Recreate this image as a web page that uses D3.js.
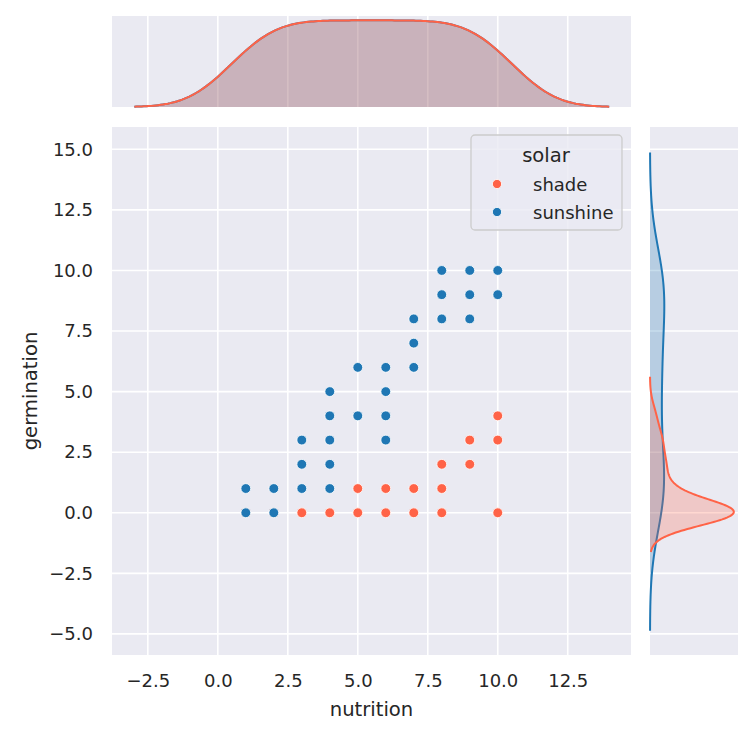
<!DOCTYPE html>
<html>
<head>
<meta charset="utf-8">
<script src="https://cdn.jsdelivr.net/npm/d3@7"></script>
<style>
  body { margin: 0; background: #fff; }
  text { font-family: "DejaVu Sans", sans-serif; fill: #262626; }
</style>
</head>
<body>
<div id="chart"></div>
<script>
// trials per spot: several trials can land on the same (nutrition, germination) dot
const shadeNutrition   = [1, 2, 3, 4, 5, 5, 6, 6, 7, 7, 8, 8, 8, 9, 9, 10, 10, 10];
const shadeGermination = [0, 0, 0, 0, 0, 1, 0, 1, 0, 1, 0, 1, 2, 2, 3, 0, 3, 4];
const shadeCount       = [5, 5, 5, 5, 3, 2, 4, 1, 3, 2, 2, 1, 2, 3, 2, 1, 2, 2];

const sunNutrition   = [1, 1, 2, 2, 3, 3, 3, 4, 4, 4, 4, 4, 5, 5, 6, 6, 6, 6, 7, 7, 7, 8, 8, 8, 9, 9, 9, 10, 10];
const sunGermination = [0, 1, 0, 1, 1, 2, 3, 1, 2, 3, 4, 5, 4, 6, 3, 4, 5, 6, 6, 7, 8, 8, 9, 10, 8, 9, 10, 9, 10];
const sunCount       = [3, 2, 2, 3, 2, 2, 1, 1, 1, 1, 1, 1, 2, 3, 1, 1, 1, 2, 1, 2, 2, 1, 2, 2, 1, 2, 2, 2, 3];

const groups = ["shade", "sunshine"];
const groupColors = ["#ff6347", "#1f77b4"];

const xTicks = [-2.5, 0, 2.5, 5, 7.5, 10, 12.5];
const yTicks = [-5, -2.5, 0, 2.5, 5, 7.5, 10, 12.5, 15];
const xDomain = [-3.78, 14.76];
const yDomain = [-5.87, 15.92];

const width = 752, height = 729;
const main = { left: 112, right: 631, top: 127, bottom: 655 };
const margTop = { top: 16, bottom: 107 };
const margRight = { left: 650, right: 738 };
const bg = "#eaeaf2";

// expand the spots into one row per trial
function expand(nut, germ, count, solar) {
  const rows = [];
  nut.forEach((n, i) => {
    for (let k = 0; k < count[i]; k++) rows.push({ nutrition: n, germination: germ[i], solar });
  });
  return rows;
}
const data = [
  ...expand(shadeNutrition, shadeGermination, shadeCount, "shade"),
  ...expand(sunNutrition, sunGermination, sunCount, "sunshine")
];
const spots = [
  shadeNutrition.map((n, i) => ({ nutrition: n, germination: shadeGermination[i], solar: "shade" })),
  sunNutrition.map((n, i) => ({ nutrition: n, germination: sunGermination[i], solar: "sunshine" }))
];

// gaussian kde, scott bandwidth, cut = 3, common norm
function kde(values, total) {
  const n = values.length;
  const bw = d3.deviation(values) * Math.pow(n, -0.2);
  const lo = d3.min(values) - 3 * bw, hi = d3.max(values) + 3 * bw;
  return d3.range(200).map(i => {
    const g = lo + (hi - lo) * i / 199;
    const dens = d3.sum(values, v => Math.exp(-0.5 * ((g - v) / bw) ** 2)) / (n * bw * Math.sqrt(2 * Math.PI));
    return [g, dens * n / total];
  });
}

const color = d3.scaleOrdinal(groups, groupColors);
const x = d3.scaleLinear(xDomain, [main.left, main.right]);
const y = d3.scaleLinear(yDomain, [main.bottom, main.top]);

const kdeX = groups.map(s => kde(data.filter(d => d.solar === s).map(d => d.nutrition), data.length));
const kdeY = groups.map(s => kde(data.filter(d => d.solar === s).map(d => d.germination), data.length));

const yTop = d3.scaleLinear([0, d3.max(kdeX.flat(), d => d[1]) * 1.05], [margTop.bottom, margTop.top]);
const xRight = d3.scaleLinear([0, d3.max(kdeY.flat(), d => d[1]) * 1.05], [margRight.left, margRight.right]);

const svg = d3.select("#chart").append("svg")
    .attr("width", width)
    .attr("height", height)
    .attr("viewBox", [0, 0, width, height]);

// axes backgrounds
svg.append("rect").attr("x", main.left).attr("y", main.top)
    .attr("width", main.right - main.left).attr("height", main.bottom - main.top).attr("fill", bg);
svg.append("rect").attr("x", main.left).attr("y", margTop.top)
    .attr("width", main.right - main.left).attr("height", margTop.bottom - margTop.top).attr("fill", bg);
svg.append("rect").attr("x", margRight.left).attr("y", main.top)
    .attr("width", margRight.right - margRight.left).attr("height", main.bottom - main.top).attr("fill", bg);

// grid lines
const grid = svg.append("g").attr("stroke", "#fff").attr("stroke-width", 1.6);
grid.selectAll(".gx").data(xTicks).join("line")
    .attr("x1", d => x(d)).attr("x2", d => x(d))
    .attr("y1", main.top).attr("y2", main.bottom);
grid.selectAll(".gxt").data(xTicks).join("line")
    .attr("x1", d => x(d)).attr("x2", d => x(d))
    .attr("y1", margTop.top).attr("y2", margTop.bottom);
grid.selectAll(".gy").data(yTicks).join("line")
    .attr("y1", d => y(d)).attr("y2", d => y(d))
    .attr("x1", main.left).attr("x2", main.right);
grid.selectAll(".gyr").data(yTicks).join("line")
    .attr("y1", d => y(d)).attr("y2", d => y(d))
    .attr("x1", margRight.left).attr("x2", margRight.right);

// axes
svg.append("g")
    .attr("transform", `translate(0,${main.bottom})`)
    .call(d3.axisBottom(x).tickValues(xTicks).tickFormat(d3.format(".1f")).tickSize(0).tickPadding(19))
    .call(g => g.select(".domain").remove())
    .call(g => g.selectAll("text").style("font-size", "18px").attr("fill", "#262626"));

svg.append("g")
    .attr("transform", `translate(${main.left},0)`)
    .call(d3.axisLeft(y).tickValues(yTicks).tickFormat(d3.format(".1f")).tickSize(0).tickPadding(19))
    .call(g => g.select(".domain").remove())
    .call(g => g.selectAll("text").style("font-size", "18px").attr("fill", "#262626"));

svg.append("text")
    .attr("x", (main.left + main.right) / 2)
    .attr("y", 716)
    .attr("text-anchor", "middle")
    .style("font-size", "19.6px")
    .text("nutrition");

svg.append("text")
    .attr("transform", `translate(37,${(main.top + main.bottom) / 2}) rotate(-90)`)
    .attr("text-anchor", "middle")
    .style("font-size", "19.6px")
    .text("germination");

// scatter, shade first then sunshine on top
svg.append("g")
  .selectAll("circle")
  .data(spots.flat())
  .join("circle")
    .attr("cx", d => x(d.nutrition))
    .attr("cy", d => y(d.germination))
    .attr("r", 4.9)
    .attr("fill", d => color(d.solar))
    .attr("stroke", "#fff")
    .attr("stroke-width", 0.8);

// marginal kdes, drawn in reverse hue order
const order = [1, 0];
const topArea = d3.area().x(d => x(d[0])).y0(yTop(0)).y1(d => yTop(d[1]));
const topLine = d3.line().x(d => x(d[0])).y(d => yTop(d[1]));
const rightArea = d3.area().y(d => y(d[0])).x0(xRight(0)).x1(d => xRight(d[1]));
const rightLine = d3.line().y(d => y(d[0])).x(d => xRight(d[1]));

const margG = svg.append("g");
order.forEach(i => {
  margG.append("path").attr("d", topArea(kdeX[i]))
      .attr("fill", groupColors[i]).attr("fill-opacity", 0.25);
  margG.append("path").attr("d", topLine(kdeX[i]))
      .attr("fill", "none").attr("stroke", groupColors[i]).attr("stroke-width", 2);
});
order.forEach(i => {
  margG.append("path").attr("d", rightArea(kdeY[i]))
      .attr("fill", groupColors[i]).attr("fill-opacity", 0.25);
  margG.append("path").attr("d", rightLine(kdeY[i]))
      .attr("fill", "none").attr("stroke", groupColors[i]).attr("stroke-width", 2);
});

// legend
const legend = svg.append("g").attr("transform", "translate(471,135)");
legend.append("rect")
    .attr("width", 151).attr("height", 95)
    .attr("rx", 4)
    .attr("fill", bg).attr("fill-opacity", 0.8)
    .attr("stroke", "#cccccc").attr("stroke-width", 1.3);
legend.append("text")
    .attr("x", 75).attr("y", 27)
    .attr("text-anchor", "middle")
    .style("font-size", "19.6px")
    .text("solar");
const items = legend.selectAll(".item").data(groups).join("g")
    .attr("transform", (d, i) => `translate(0,${49 + i * 28})`);
items.append("circle").attr("cx", 26).attr("cy", 0).attr("r", 4.6)
    .attr("fill", d => color(d)).attr("stroke", "#fff").attr("stroke-width", 0.8);
items.append("text").attr("x", 62).attr("y", 6.5)
    .style("font-size", "18px")
    .text(d => d);
</script>
</body>
</html>
